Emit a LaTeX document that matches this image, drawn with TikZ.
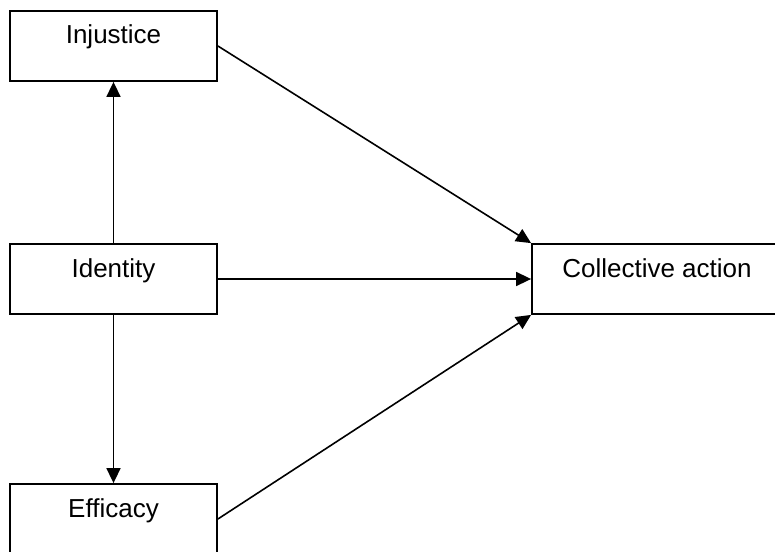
\documentclass[tikz,border=0pt]{standalone}
\usepackage{fontspec}
\setmainfont{Liberation Sans}
\usetikzlibrary{arrows.meta}
\tikzset{
    varbox/.style={draw,line width=0.9pt,inner sep=0pt,minimum width=103.5pt,
        text height=16.5pt,text depth=18.5pt,font=\fontsize{13}{15}\selectfont},
    path/.style={line width=0.8pt,-{Triangle[length=7.5pt,width=7pt]}}
}
\begin{document}
    \begin{tikzpicture}[x=0.5pt,y=-0.5pt]
        \useasboundingbox (0,0) rectangle (775,551);
        \clip (0,0) rectangle (775,551);
        \node[varbox] (injustice) at (113.5,46) {Injustice};
        \node[varbox] (identity) at (113.5,279) {Identity};
        \node[varbox] (efficacy) at (113.5,519) {Efficacy};
        \node[varbox,minimum width=125pt] (action) at (657,279) {Collective action};
        \draw[path] (identity.north) -- (injustice.south);
        \draw[path] (identity.south) -- (efficacy.north);
        \draw[path] (injustice.east) -- (action.north west);
        \draw[path] (identity.east) -- (action.west);
        \draw[path] (efficacy.east) -- (action.south west);
    \end{tikzpicture}
\end{document}
